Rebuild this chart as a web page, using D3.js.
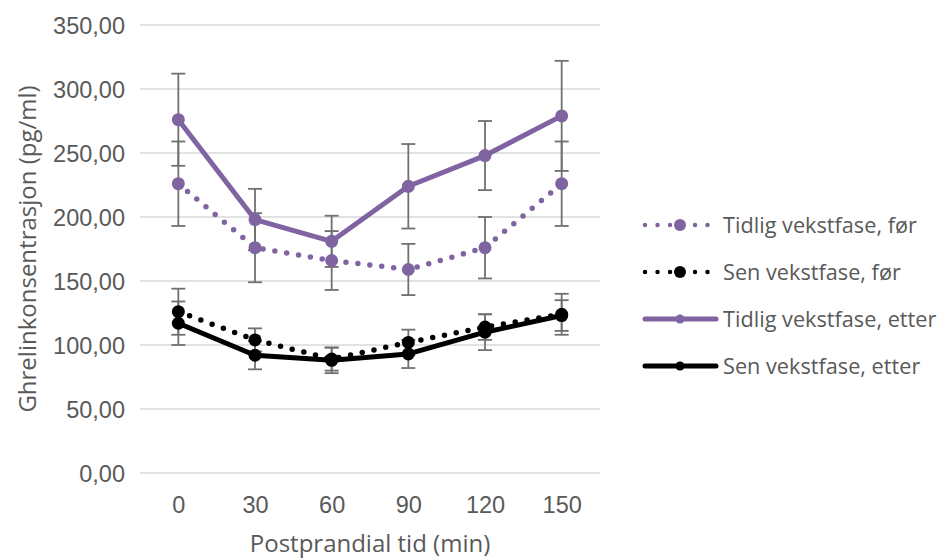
<!DOCTYPE html>
<html>
<head>
<meta charset="utf-8">
<script src="https://cdn.jsdelivr.net/npm/d3@7"></script>
<style>
  body { margin: 0; background: #fff; }
  svg { font-family: "Open Sans", sans-serif; }
</style>
</head>
<body>
<svg id="chart"></svg>
<script>
// data
const timePoints = ["0", "30", "60", "90", "120", "150"];
const yTicks = [0, 50, 100, 150, 200, 250, 300, 350];

const seriesNames = ["Tidlig vekstfase, før", "Sen vekstfase, før", "Tidlig vekstfase, etter", "Sen vekstfase, etter"];
const tidligFor = [226, 176, 166, 159, 176, 226];
const tidligForErr = [33, 27, 23, 20, 24, 33];
const senFor = [126, 104, 89, 102, 114, 124];
const senForErr = [18, 9, 9, 10, 10, 16];
const tidligEtter = [276, 198, 181, 224, 248, 279];
const tidligEtterErr = [36, 24, 20, 33, 27, 43];
const senEtter = [117, 92, 88, 93, 110, 123];
const senEtterErr = [17, 11, 10, 11, 14, 12];

const series = [
  { name: seriesNames[0], values: tidligFor, err: tidligForErr, color: "#8064a2", dotted: true },
  { name: seriesNames[1], values: senFor, err: senForErr, color: "#000000", dotted: true },
  { name: seriesNames[2], values: tidligEtter, err: tidligEtterErr, color: "#8064a2", dotted: false },
  { name: seriesNames[3], values: senEtter, err: senEtterErr, color: "#000000", dotted: false }
];

const width = 941, height = 558;
const margin = { top: 25, right: 341, bottom: 85, left: 140 };
const textColor = "#595959";

const svg = d3.select("#chart")
  .attr("width", width)
  .attr("height", height);

const x = d3.scalePoint()
  .domain(timePoints)
  .range([margin.left, width - margin.right])
  .padding(0.5);

const y = d3.scaleLinear()
  .domain([0, 350])
  .range([height - margin.bottom, margin.top]);

// gridlines
svg.append("g")
  .selectAll("line")
  .data(yTicks)
  .enter()
  .append("line")
  .attr("x1", margin.left)
  .attr("x2", width - margin.right)
  .attr("y1", d => y(d))
  .attr("y2", d => y(d))
  .attr("stroke", "#d9d9d9")
  .attr("stroke-width", 1.3);

// y axis labels
const yAxis = svg.append("g")
  .attr("transform", `translate(${margin.left - 12},0)`)
  .call(d3.axisLeft(y).tickValues(yTicks).tickSize(0).tickFormat(d => d3.format(".2f")(d).replace(".", ",")));
yAxis.select(".domain").remove();
yAxis.selectAll("text")
  .attr("fill", textColor)
  .style("font-size", "23.5px")
  .attr("dy", "0.35em");

// x axis labels
const xAxis = svg.append("g")
  .attr("transform", `translate(0,${height - margin.bottom + 20})`)
  .call(d3.axisBottom(x).tickSize(0));
xAxis.select(".domain").remove();
xAxis.selectAll("text")
  .attr("fill", textColor)
  .style("font-size", "23.5px")
  .attr("dy", "0.71em");

// axis titles
svg.append("text")
  .attr("x", (margin.left + width - margin.right) / 2)
  .attr("y", 552)
  .attr("text-anchor", "middle")
  .attr("fill", textColor)
  .style("font-size", "24px")
  .text("Postprandial tid (min)");

svg.append("text")
  .attr("transform", `translate(36,${(y(0) + y(350)) / 2}) rotate(-90)`)
  .attr("text-anchor", "middle")
  .attr("fill", textColor)
  .style("font-size", "24px")
  .text("Ghrelinkonsentrasjon (pg/ml)");

// error bars
const capHalf = 7;
series.forEach(s => {
  const g = svg.append("g").attr("stroke", "#707070").attr("stroke-width", 1.8);
  s.values.forEach((v, i) => {
    const cx = x(timePoints[i]);
    const top = y(v + s.err[i]), bot = y(v - s.err[i]);
    g.append("line").attr("x1", cx).attr("x2", cx).attr("y1", top).attr("y2", bot);
    g.append("line").attr("x1", cx - capHalf).attr("x2", cx + capHalf).attr("y1", top).attr("y2", top);
    g.append("line").attr("x1", cx - capHalf).attr("x2", cx + capHalf).attr("y1", bot).attr("y2", bot);
  });
});

const line = d3.line()
  .x((d, i) => x(timePoints[i]))
  .y(d => y(d));

series.forEach(s => {
  const path = svg.append("path")
    .datum(s.values)
    .attr("fill", "none")
    .attr("stroke", s.color)
    .attr("stroke-linecap", "round")
    .attr("stroke-linejoin", "round")
    .attr("stroke-width", 5)
    .attr("d", line);
  if (s.dotted) {
    path.attr("stroke-width", 5.5).attr("stroke-dasharray", "0 12");
  }
  svg.append("g")
    .selectAll("circle")
    .data(s.values)
    .enter()
    .append("circle")
    .attr("cx", (d, i) => x(timePoints[i]))
    .attr("cy", d => y(d))
    .attr("r", 6.5)
    .attr("fill", s.color);
});

// legend
const legendRows = [225, 272, 319, 366];
const legend = svg.append("g");
series.forEach((s, i) => {
  const ly = legendRows[i];
  legend.append("line")
    .attr("x1", 645).attr("x2", 716)
    .attr("y1", ly).attr("y2", ly)
    .attr("stroke", s.color)
    .attr("stroke-linecap", "round")
    .attr("stroke-width", s.dotted ? 4.5 : 5)
    .attr("stroke-dasharray", s.dotted ? "0 12.5" : null);
  legend.append("circle")
    .attr("cx", 680).attr("cy", ly)
    .attr("r", s.dotted ? 6 : 4.5)
    .attr("fill", s.color);
  legend.append("text")
    .attr("x", 723).attr("y", ly)
    .attr("dy", "0.35em")
    .attr("fill", textColor)
    .style("font-size", "21.7px")
    .text(s.name);
});
</script>
</body>
</html>
